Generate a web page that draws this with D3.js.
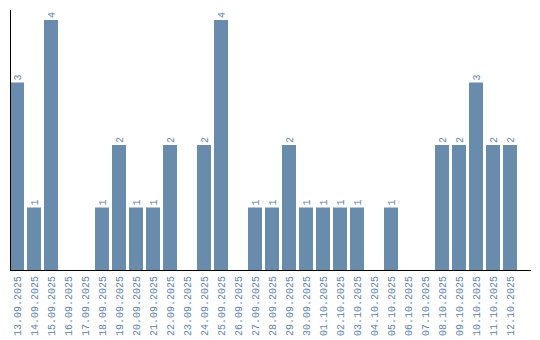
<!DOCTYPE html>
<html><head><meta charset="utf-8">
<script src="https://cdn.jsdelivr.net/npm/d3@7"></script>
<style>body{margin:0;background:#fff}svg{display:block}</style>
</head><body><svg id="c" width="540" height="340"></svg>
<script>
const dates = ["13.09.2025","14.09.2025","15.09.2025","16.09.2025","17.09.2025","18.09.2025","19.09.2025","20.09.2025","21.09.2025","22.09.2025","23.09.2025","24.09.2025","25.09.2025","26.09.2025","27.09.2025","28.09.2025","29.09.2025","30.09.2025","01.10.2025","02.10.2025","03.10.2025","04.10.2025","05.10.2025","06.10.2025","07.10.2025","08.10.2025","09.10.2025","10.10.2025","11.10.2025","12.10.2025"];
const counts = [3,1,4,0,0,1,2,1,1,2,0,2,4,0,1,1,2,1,1,1,1,0,1,0,0,2,2,3,2,2];

const svg = d3.select("#c");
const x = d3.scaleBand().domain(dates).range([10,517]).paddingInner(3/17).paddingOuter(0).align(0);
const y = d3.scaleLinear().domain([0,4]).range([270,20]);
const barColor = "#6a8cac", textColor = "#5f82a8";
const font = "'Liberation Mono', monospace";

svg.selectAll("rect.bar").data(dates.map((d,i)=>({d,v:counts[i]})).filter(o=>o.v>0))
  .enter().append("rect")
  .attr("x", o=>x(o.d)).attr("width", x.bandwidth())
  .attr("y", o=>y(o.v)).attr("height", o=>y(0)-y(o.v))
  .attr("fill", barColor);

svg.selectAll("text.val").data(dates.map((d,i)=>({d,v:counts[i]})).filter(o=>o.v>0))
  .enter().append("text")
  .attr("transform", o=>`translate(${x(o.d)+x.bandwidth()/2+3.5},${y(o.v)-2}) rotate(-90)`)
  .attr("font-family", font).attr("font-size", 10).attr("fill", textColor)
  .text(o=>o.v);

const xAxis = d3.axisBottom(x).tickSize(0).tickPadding(0);
const gx = svg.append("g").attr("transform","translate(0,270)").call(xAxis);
gx.select(".domain").remove();
gx.selectAll("text")
  .attr("font-family", font).attr("font-size", 10).attr("fill", textColor)
  .attr("text-anchor","end").attr("dy", null)
  .attr("transform","translate(3.5,6) rotate(-90)").attr("x",0).attr("y",0);

svg.append("line").attr("x1",10).attr("x2",531).attr("y1",270.5).attr("y2",270.5).attr("stroke","#000");
svg.append("line").attr("x1",10.5).attr("x2",10.5).attr("y1",10).attr("y2",270).attr("stroke","#000");
</script></body></html>
